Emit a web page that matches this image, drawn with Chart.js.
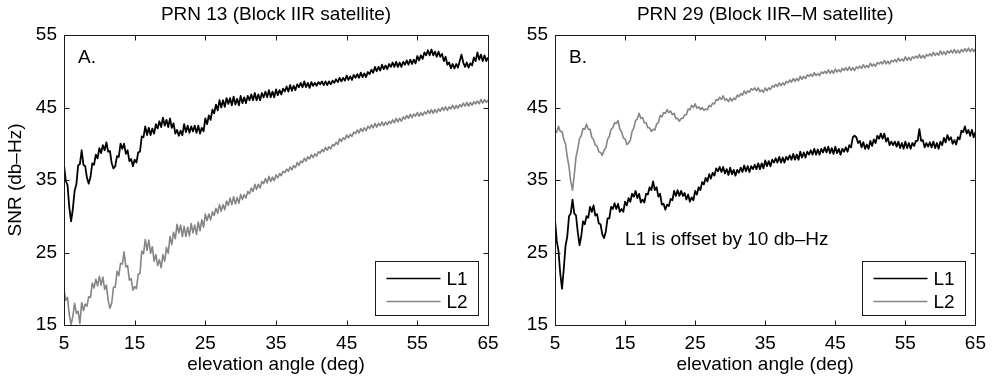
<!DOCTYPE html>
<html>
<head>
<meta charset="utf-8">
<script src="https://cdn.jsdelivr.net/npm/chart.js@4.4.1/dist/chart.umd.min.js"></script>
<style>
  html, body { margin: 0; padding: 0; background: #fff; }
  #wrap { position: relative; width: 993px; height: 379px; }
  #wrap canvas { position: absolute; left: 0; top: 0; }
</style>
</head>
<body>
<div id="wrap">
  <canvas id="cLeft" width="993" height="379"></canvas>
  <canvas id="cRight" width="993" height="379"></canvas>
</div>
<script>
// elevation angle (deg), shared by all series
const elevation = [
  5, 5.25, 5.5, 5.75, 6, 6.25, 6.5, 6.75, 7, 7.25, 7.5, 7.75, 8, 8.25, 8.5, 8.75, 9, 9.25, 9.5, 9.75,
  10, 10.25, 10.5, 10.75, 11, 11.25, 11.5, 11.75, 12, 12.25, 12.5, 12.75, 13, 13.25, 13.5, 13.75, 14, 14.25, 14.5, 14.75,
  15, 15.25, 15.5, 15.75, 16, 16.25, 16.5, 16.75, 17, 17.25, 17.5, 17.75, 18, 18.25, 18.5, 18.75, 19, 19.25, 19.5, 19.75,
  20, 20.25, 20.5, 20.75, 21, 21.25, 21.5, 21.75, 22, 22.25, 22.5, 22.75, 23, 23.25, 23.5, 23.75, 24, 24.25, 24.5, 24.75,
  25, 25.25, 25.5, 25.75, 26, 26.25, 26.5, 26.75, 27, 27.25, 27.5, 27.75, 28, 28.25, 28.5, 28.75, 29, 29.25, 29.5, 29.75,
  30, 30.25, 30.5, 30.75, 31, 31.25, 31.5, 31.75, 32, 32.25, 32.5, 32.75, 33, 33.25, 33.5, 33.75, 34, 34.25, 34.5, 34.75,
  35, 35.25, 35.5, 35.75, 36, 36.25, 36.5, 36.75, 37, 37.25, 37.5, 37.75, 38, 38.25, 38.5, 38.75, 39, 39.25, 39.5, 39.75,
  40, 40.25, 40.5, 40.75, 41, 41.25, 41.5, 41.75, 42, 42.25, 42.5, 42.75, 43, 43.25, 43.5, 43.75, 44, 44.25, 44.5, 44.75,
  45, 45.25, 45.5, 45.75, 46, 46.25, 46.5, 46.75, 47, 47.25, 47.5, 47.75, 48, 48.25, 48.5, 48.75, 49, 49.25, 49.5, 49.75,
  50, 50.25, 50.5, 50.75, 51, 51.25, 51.5, 51.75, 52, 52.25, 52.5, 52.75, 53, 53.25, 53.5, 53.75, 54, 54.25, 54.5, 54.75,
  55, 55.25, 55.5, 55.75, 56, 56.25, 56.5, 56.75, 57, 57.25, 57.5, 57.75, 58, 58.25, 58.5, 58.75, 59, 59.25, 59.5, 59.75,
  60, 60.25, 60.5, 60.75, 61, 61.25, 61.5, 61.75, 62, 62.25, 62.5, 62.75, 63, 63.25, 63.5, 63.75, 64, 64.25, 64.5, 64.75,
  65
];

// PRN 13 (panel A), SNR in db-Hz
const prn13L1 = [
  37.1, 34.9, 34.3, 31.2, 29.3, 31.0, 33.5, 34.4, 37.0, 37.2, 39.1, 37.1, 36.9, 35.3, 34.5, 35.4, 37.3, 37.1, 38.5, 38.0,
  39.4, 38.7, 39.8, 39.1, 40.2, 38.9, 39.0, 37.3, 36.6, 36.9, 38.3, 38.2, 40.0, 39.3, 40.0, 38.6, 39.1, 37.6, 37.9, 36.9,
  37.8, 37.4, 38.8, 38.9, 41.0, 40.9, 42.4, 41.2, 42.2, 41.2, 42.1, 41.4, 42.7, 42.1, 43.1, 42.3, 43.6, 42.5, 43.3, 42.3,
  43.5, 42.2, 42.8, 41.4, 41.9, 41.1, 41.8, 41.2, 42.7, 41.6, 42.5, 41.5, 42.4, 41.7, 42.5, 41.5, 42.5, 41.4, 42.2, 41.7,
  43.5, 42.7, 43.9, 43.3, 44.7, 44.2, 45.4, 44.6, 46.0, 45.0, 46.0, 45.1, 46.3, 45.5, 46.3, 45.3, 46.5, 45.4, 46.2, 45.3,
  46.6, 45.6, 46.4, 45.6, 46.6, 46.0, 46.8, 46.0, 47.0, 46.0, 46.8, 46.0, 47.0, 46.4, 47.2, 46.4, 47.4, 46.4, 47.2, 46.4,
  47.5, 46.7, 47.4, 46.8, 47.6, 47.2, 47.9, 47.2, 48.1, 47.3, 48.0, 47.4, 48.2, 47.8, 48.4, 47.8, 48.6, 47.8, 48.4, 47.7,
  48.5, 48.0, 48.4, 48.0, 48.5, 48.2, 48.6, 48.1, 48.6, 48.1, 48.6, 48.2, 48.7, 48.4, 48.9, 48.5, 49.1, 48.6, 49.1, 48.7,
  49.4, 48.8, 49.3, 48.8, 49.5, 49.1, 49.6, 49.1, 49.8, 49.2, 49.7, 49.2, 49.9, 49.6, 50.2, 49.8, 50.6, 50.0, 50.6, 50.1,
  50.9, 50.3, 50.8, 50.3, 51.0, 50.6, 51.2, 50.6, 51.3, 50.6, 51.2, 50.6, 51.3, 50.9, 51.5, 50.9, 51.6, 51.0, 51.6, 51.1,
  52.1, 51.5, 52.2, 51.7, 52.6, 52.2, 52.9, 52.2, 53.0, 52.2, 52.7, 52.0, 52.7, 52.0, 52.4, 51.4, 52.0, 50.9, 51.2, 50.4,
  51.0, 50.4, 51.0, 50.5, 51.4, 52.3, 51.2, 50.6, 51.2, 50.5, 51.1, 50.8, 51.9, 51.4, 52.6, 51.6, 52.3, 51.4, 52.2, 51.4,
  51.9
];
const prn13L2 = [
  19.9, 18.4, 18.8, 16.4, 15.1, 16.2, 18.0, 16.6, 16.9, 15.2, 18.1, 17.0, 17.9, 17.6, 18.9, 18.8, 20.8, 20.1, 21.3, 20.4,
  21.7, 20.5, 21.6, 19.9, 20.5, 18.4, 17.3, 18.0, 20.2, 20.2, 22.4, 21.8, 23.5, 23.4, 25.1, 23.0, 23.2, 21.2, 21.4, 19.8,
  20.3, 20.0, 22.0, 22.1, 25.2, 24.8, 26.8, 25.3, 26.7, 24.9, 25.8, 23.8, 24.7, 23.2, 24.0, 22.9, 24.7, 23.8, 25.7, 24.9,
  27.2, 26.1, 27.8, 26.9, 28.9, 27.7, 28.8, 27.2, 28.6, 27.2, 28.5, 27.3, 29.0, 27.7, 28.8, 27.5, 29.2, 28.0, 29.5, 28.5,
  30.3, 29.4, 30.3, 29.5, 30.6, 30.1, 31.1, 30.4, 31.6, 30.7, 31.6, 30.9, 32.1, 31.5, 32.5, 31.6, 32.7, 31.7, 32.6, 31.8,
  33.0, 32.3, 33.0, 32.5, 33.4, 33.1, 33.9, 33.4, 34.4, 33.7, 34.4, 33.9, 34.8, 34.5, 35.2, 34.6, 35.5, 34.8, 35.4, 34.9,
  35.7, 35.3, 35.9, 35.6, 36.2, 36.0, 36.5, 36.2, 36.8, 36.4, 37.0, 36.7, 37.4, 37.0, 37.6, 37.4, 38.0, 37.6, 38.2, 37.9,
  38.5, 38.1, 38.6, 38.3, 38.9, 38.7, 39.2, 38.9, 39.5, 39.1, 39.6, 39.3, 39.9, 39.7, 40.2, 39.9, 40.7, 40.3, 40.8, 40.6,
  41.2, 40.8, 41.3, 41.0, 41.6, 41.4, 41.9, 41.5, 42.1, 41.7, 42.2, 41.8, 42.4, 42.1, 42.6, 42.2, 42.8, 42.3, 42.8, 42.5,
  43.0, 42.5, 43.0, 42.6, 43.1, 42.8, 43.3, 42.9, 43.5, 43.0, 43.5, 43.1, 43.7, 43.4, 43.9, 43.5, 44.1, 43.6, 44.1, 43.8,
  44.3, 43.8, 44.3, 43.9, 44.4, 44.1, 44.6, 44.2, 44.7, 44.2, 44.7, 44.3, 44.8, 44.5, 45.0, 44.6, 45.1, 44.6, 45.1, 44.8,
  45.3, 44.8, 45.3, 44.9, 45.4, 45.1, 45.6, 45.2, 45.7, 45.2, 45.7, 45.3, 45.8, 45.5, 45.9, 45.5, 46.1, 45.6, 46.1, 45.7,
  46.0
];

// PRN 29 (panel B), L1 offset by 10 db-Hz
const prn29L1 = [
  29.5, 26.6, 25.2, 22.1, 20.0, 22.7, 25.9, 27.2, 30.0, 30.4, 32.3, 30.4, 30.1, 27.8, 26.0, 27.3, 29.3, 28.9, 30.0, 29.8,
  31.3, 30.6, 31.5, 30.1, 30.3, 29.0, 28.9, 27.5, 27.0, 27.9, 29.7, 29.7, 31.3, 31.0, 31.8, 31.0, 31.7, 30.6, 31.0, 30.6,
  32.0, 31.5, 32.5, 32.0, 33.1, 32.7, 33.5, 32.5, 33.1, 31.9, 32.3, 31.9, 33.1, 33.0, 34.0, 33.6, 34.8, 33.6, 34.0, 32.7,
  33.1, 31.6, 31.7, 30.9, 31.6, 31.4, 32.4, 32.2, 33.5, 32.8, 33.6, 32.8, 33.5, 32.8, 33.2, 32.3, 33.0, 32.0, 32.6, 32.2,
  33.5, 33.0, 34.0, 33.6, 34.7, 34.4, 35.3, 34.8, 35.8, 35.2, 36.0, 35.6, 36.6, 36.2, 36.8, 36.1, 36.8, 35.9, 36.5, 35.7,
  36.7, 35.8, 36.4, 35.6, 36.4, 36.0, 36.7, 36.1, 37.0, 36.2, 36.9, 36.1, 36.9, 36.5, 37.1, 36.5, 37.3, 36.5, 37.3, 36.6,
  37.7, 36.9, 37.6, 36.9, 37.8, 37.4, 38.0, 37.4, 38.2, 37.4, 38.1, 37.4, 38.2, 37.8, 38.4, 37.8, 38.6, 37.8, 38.5, 37.8,
  38.9, 38.1, 38.8, 38.1, 38.9, 38.5, 39.1, 38.5, 39.3, 38.5, 39.2, 38.5, 39.3, 38.8, 39.5, 38.8, 39.6, 38.7, 39.4, 38.6,
  39.6, 38.7, 39.3, 38.5, 39.3, 38.9, 39.5, 38.9, 39.8, 39.5, 40.9, 41.1, 40.9, 40.1, 40.4, 39.5, 40.2, 39.3, 39.9, 39.3,
  40.4, 39.7, 40.6, 40.1, 41.1, 40.7, 41.4, 40.7, 41.4, 40.3, 40.8, 39.8, 40.3, 39.8, 40.3, 39.6, 40.3, 39.4, 40.1, 39.3,
  40.3, 39.4, 40.1, 39.3, 40.1, 39.7, 40.4, 40.4, 42.0, 40.4, 40.5, 39.5, 40.1, 39.6, 40.2, 39.5, 40.3, 39.4, 40.1, 39.3,
  40.3, 39.8, 40.8, 40.2, 41.2, 40.5, 40.9, 40.0, 40.5, 39.9, 40.9, 40.6, 41.8, 41.6, 42.4, 41.4, 41.9, 41.1, 41.9, 40.9,
  41.6
];
const prn29L2 = [
  41.7, 41.6, 42.4, 41.7, 41.7, 40.6, 40.0, 38.2, 36.8, 34.8, 33.6, 35.7, 38.2, 39.3, 40.7, 41.1, 42.1, 42.0, 42.7, 42.0,
  42.0, 40.9, 40.6, 39.8, 39.7, 38.9, 38.8, 38.4, 39.1, 39.4, 40.6, 41.0, 42.0, 42.2, 42.9, 42.8, 43.2, 42.0, 41.7, 40.8,
  40.7, 39.9, 40.1, 40.5, 41.7, 42.2, 43.2, 43.4, 44.2, 43.5, 43.6, 42.9, 42.9, 42.2, 42.2, 41.7, 42.0, 41.9, 42.7, 42.9,
  43.9, 43.7, 44.3, 44.2, 44.7, 44.3, 44.5, 44.0, 44.2, 43.5, 43.5, 43.1, 43.5, 43.5, 44.0, 44.0, 44.8, 44.7, 45.3, 45.0,
  45.5, 44.9, 45.1, 44.7, 45.0, 44.6, 44.8, 44.7, 45.3, 45.1, 45.6, 45.5, 46.1, 46.0, 46.4, 46.1, 46.6, 46.0, 46.2, 45.8,
  46.3, 45.9, 46.3, 46.1, 46.7, 46.5, 46.9, 46.7, 47.3, 46.9, 47.3, 47.1, 47.6, 47.4, 47.7, 47.3, 47.7, 47.2, 47.4, 47.1,
  47.7, 47.3, 47.7, 47.5, 48.0, 47.8, 48.2, 47.9, 48.4, 48.0, 48.4, 48.1, 48.6, 48.4, 48.8, 48.5, 49.0, 48.6, 49.0, 48.7,
  49.3, 48.9, 49.3, 49.0, 49.5, 49.3, 49.6, 49.3, 49.8, 49.4, 49.7, 49.4, 49.9, 49.7, 50.0, 49.7, 50.2, 49.7, 50.1, 49.7,
  50.3, 49.9, 50.2, 49.9, 50.4, 50.1, 50.5, 50.1, 50.6, 50.1, 50.5, 50.1, 50.6, 50.4, 50.7, 50.4, 50.9, 50.5, 50.8, 50.5,
  51.1, 50.7, 51.0, 50.7, 51.2, 51.0, 51.3, 51.0, 51.5, 51.0, 51.4, 51.0, 51.5, 51.3, 51.6, 51.3, 51.8, 51.4, 51.7, 51.4,
  52.0, 51.5, 51.9, 51.5, 52.0, 51.8, 52.1, 51.8, 52.3, 51.8, 52.2, 51.8, 52.3, 52.1, 52.4, 52.1, 52.6, 52.2, 52.5, 52.2,
  52.8, 52.3, 52.7, 52.3, 52.8, 52.5, 52.9, 52.5, 53.0, 52.5, 52.9, 52.5, 53.0, 52.7, 53.1, 52.7, 53.2, 52.7, 53.1, 52.7,
  53.1
];

const xTickValues = [5, 15, 25, 35, 45, 55, 65];
const yTickValues = [15, 25, 35, 45, 55];
const seriesNames = ['L1', 'L2'];
const seriesColors = ['#000000', '#858585'];
const seriesWidths = [1.8, 1.6];

const FONT = '"Liberation Sans", Arial, Helvetica, sans-serif';
Chart.defaults.font.family = FONT;
Chart.defaults.font.size = 19;
Chart.defaults.color = '#000';

// box, inward ticks, title, panel letter, legend, note
const panelDecor = {
  id: 'panelDecor',
  afterDraw(chart, args, opts) {
    const ctx = chart.ctx;
    const a = chart.chartArea;
    const xs = chart.scales.x, ys = chart.scales.y;
    const L = Math.round(a.left) + 0.5, R = Math.round(a.right) + 0.5;
    const T = Math.round(a.top) + 0.5, B = Math.round(a.bottom) + 0.5;
    ctx.save();
    ctx.strokeStyle = '#1a1a1a';
    ctx.lineWidth = 1;
    ctx.strokeRect(L, T, R - L, B - T);
    ctx.beginPath();
    xs.ticks.forEach(t => {
      const px = Math.round(xs.getPixelForValue(t.value)) + 0.5;
      ctx.moveTo(px, T); ctx.lineTo(px, T + 5);
      ctx.moveTo(px, B); ctx.lineTo(px, B - 5);
    });
    ys.ticks.forEach(t => {
      const py = Math.round(ys.getPixelForValue(t.value)) + 0.5;
      ctx.moveTo(L, py); ctx.lineTo(L + 5, py);
      ctx.moveTo(R, py); ctx.lineTo(R - 5, py);
    });
    ctx.stroke();

    ctx.fillStyle = '#000';
    ctx.font = '19px ' + FONT;
    ctx.textBaseline = 'alphabetic';
    ctx.textAlign = 'center';
    ctx.fillText(opts.title, (a.left + a.right) / 2, 20);
    ctx.textAlign = 'left';
    ctx.fillText(opts.letter, a.left + 14, 63);

    if (opts.note) {
      ctx.fillText(opts.note.text, xs.getPixelForValue(opts.note.x), ys.getPixelForValue(opts.note.y));
    }

    // legend box in lower right corner
    const bw = 103, bh = 54;
    const bx = Math.round(a.right - 10 - bw) + 0.5, by = Math.round(a.bottom - 10 - bh) + 0.5;
    ctx.fillStyle = '#fff';
    ctx.fillRect(bx, by, bw, bh);
    ctx.strokeStyle = '#1a1a1a';
    ctx.lineWidth = 1;
    ctx.strokeRect(bx, by, bw, bh);
    chart.data.datasets.forEach((ds, i) => {
      const ly = Math.round(by + 16 + i * 23) + 0.5;
      ctx.strokeStyle = ds.borderColor;
      ctx.lineWidth = 1.3;
      ctx.beginPath();
      ctx.moveTo(bx + 11, ly); ctx.lineTo(bx + 65, ly);
      ctx.stroke();
      ctx.fillStyle = '#000';
      ctx.textBaseline = 'middle';
      ctx.fillText(ds.label, bx + 71, ly + 1);
    });
    ctx.restore();
  }
};

function makePanel(id, l1, l2, opts) {
  const ctx = document.getElementById(id).getContext('2d');
  const toXY = arr => arr.map((v, i) => ({ x: elevation[i], y: v }));
  return new Chart(ctx, {
    type: 'line',
    data: {
      datasets: [
        { label: seriesNames[0], data: toXY(l1), borderColor: seriesColors[0], borderWidth: seriesWidths[0] },
        { label: seriesNames[1], data: toXY(l2), borderColor: seriesColors[1], borderWidth: seriesWidths[1] }
      ]
    },
    options: {
      responsive: false,
      animation: false,
      events: [],
      layout: { padding: opts.padding },
      elements: { point: { radius: 0 }, line: { tension: 0, borderJoinStyle: 'round' } },
      plugins: {
        legend: { display: false },
        tooltip: { enabled: false },
        panelDecor: opts.decor
      },
      scales: {
        x: {
          type: 'linear', min: 5, max: 65,
          afterBuildTicks: s => { s.ticks = xTickValues.map(v => ({ value: v })); },
          afterFit: s => { s.height = 54; },
          grid: { display: false, drawTicks: false },
          border: { display: false },
          ticks: { padding: 7, maxRotation: 0, autoSkip: false },
          title: { display: true, text: 'elevation angle (deg)', padding: { top: 0, bottom: 3 } }
        },
        y: {
          min: 15, max: 55,
          afterBuildTicks: s => { s.ticks = yTickValues.map(v => ({ value: v })); },
          afterFit: s => { s.width = opts.yWidth; },
          grid: { display: false, drawTicks: false },
          border: { display: false },
          ticks: { padding: 7, autoSkip: false },
          title: { display: !!opts.yTitle, text: opts.yTitle || '', padding: { top: 4, bottom: 0 } }
        }
      }
    },
    plugins: [panelDecor]
  });
}

makePanel('cLeft', prn13L1, prn13L2, {
  padding: { left: 0, top: 35, right: 505, bottom: 0 },
  yWidth: 64,
  yTitle: 'SNR (db–Hz)',
  decor: { title: 'PRN 13 (Block IIR satellite)', letter: 'A.' }
});

makePanel('cRight', prn29L1, prn29L2, {
  padding: { left: 496, top: 35, right: 14, bottom: 0 },
  yWidth: 59,
  decor: {
    title: 'PRN 29 (Block IIR–M satellite)', letter: 'B.',
    note: { text: 'L1 is offset by 10 db–Hz', x: 15, y: 26 }
  }
});
</script>
</body>
</html>
